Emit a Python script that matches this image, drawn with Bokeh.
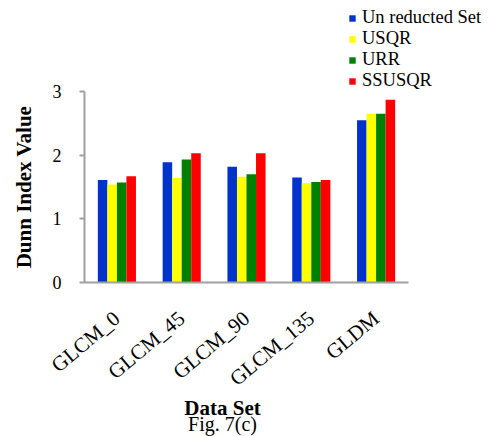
import math
from bokeh.plotting import figure
from bokeh.models import ColumnDataSource, Legend, LegendItem, Label, Range1d, FixedTicker, LinearAxis
from bokeh.embed import file_html
from bokeh.resources import INLINE

categories = ["GLCM_0", "GLCM_45", "GLCM_90", "GLCM_135", "GLDM"]
series_names = ["Un reducted Set", "USQR", "URR", "SSUSQR"]
unreducted = [1.61, 1.89, 1.82, 1.65, 2.55]
usqr = [1.54, 1.64, 1.66, 1.56, 2.65]
urr = [1.57, 1.93, 1.70, 1.58, 2.65]
ssusqr = [1.67, 2.03, 2.03, 1.61, 2.87]
y_ticks = [0, 1, 2, 3]

colors = ["#0033CC", "#FFFF00", "#008000", "#FF0000"]
offsets = [-0.2205, -0.0735, 0.0735, 0.2205]
FONT = "Liberation Serif"
AXIS_COLOR = "#A0A0A0"

W, H = 488, 436
AXIS_X_PX = 84             # pixel column of the value axis
PX_PER_CAT = 64.8          # horizontal pixels per category
AXIS_Y_PX = 282            # pixel row (from top) of value 0
TOP_Y_PX = 91              # pixel row of value 3
px_per_unit = (AXIS_Y_PX - TOP_Y_PX) / 3.0

n = len(categories)
left_edge = -0.5
x_start = left_edge - AXIS_X_PX / PX_PER_CAT
x_end = x_start + W / PX_PER_CAT
y_start = -(H - AXIS_Y_PX) / px_per_unit
y_end = 3 + TOP_Y_PX / px_per_unit

ticks = list(range(n))
data = dict(s0=unreducted, s1=usqr, s2=urr, s3=ssusqr)
for i in range(4):
    data["x%d" % i] = [t + offsets[i] for t in ticks]
source = ColumnDataSource(data)

p = figure(width=W, height=H, x_range=Range1d(x_start, x_end), y_range=Range1d(y_start, y_end),
           output_backend="svg", toolbar_location=None, x_axis_location=None, y_axis_location=None,
           min_border_left=0, min_border_right=0, min_border_top=0, min_border_bottom=0)
p.outline_line_color = None
p.grid.grid_line_color = None

renderers = []
for i, key in enumerate(["s0", "s1", "s2", "s3"]):
    r = p.vbar(x="x%d" % i, top=key, width=0.147, source=source,
               fill_color=colors[i], line_color=None)
    renderers.append(r)

# category axis, fixed at value 0
xax = LinearAxis(fixed_location=0, bounds=(left_edge, left_edge + n),
                 ticker=FixedTicker(ticks=ticks),
                 major_label_overrides={t: c for t, c in zip(ticks, categories)})
xax.axis_line_color = AXIS_COLOR
xax.axis_line_width = 2
xax.major_tick_line_color = None
xax.major_tick_in = 0
xax.major_tick_out = 0
xax.minor_tick_line_color = None
xax.major_label_orientation = math.radians(40)
xax.major_label_standoff = 33
xax.major_label_text_font = FONT
xax.major_label_text_font_size = "21px"
xax.major_label_text_color = "#000000"
p.add_layout(xax, "below")

# value axis, fixed at the left edge of the categories
yax = LinearAxis(fixed_location=left_edge, bounds=(0, 3), ticker=FixedTicker(ticks=y_ticks))
yax.axis_line_color = AXIS_COLOR
yax.axis_line_width = 2
yax.major_tick_in = 0
yax.major_tick_out = 5
yax.major_tick_line_color = AXIS_COLOR
yax.major_tick_line_width = 2
yax.minor_tick_line_color = None
yax.major_label_text_font = FONT
yax.major_label_text_font_size = "18px"
yax.major_label_text_color = "#000000"
yax.major_label_standoff = 18
yax.axis_label = "Dunn Index Value"
yax.axis_label_text_font = FONT
yax.axis_label_text_font_style = "bold"
yax.axis_label_text_font_size = "21px"
yax.axis_label_text_color = "#000000"
yax.axis_label_standoff = 14
p.add_layout(yax, "left")

legend = Legend(items=[LegendItem(label=series_names[i], renderers=[renderers[i]]) for i in range(4)],
                location=(348, H - 7 - 84), padding=0, margin=0, spacing=0, label_height=20,
                glyph_width=8, glyph_height=8, label_standoff=6,
                border_line_color=None, background_fill_alpha=0,
                label_text_font=FONT, label_text_font_size="18.5px", label_text_color="#000000")
p.add_layout(legend, "center")

p.add_layout(Label(x=222, y=H - 407, x_units="screen", y_units="screen", text="Data Set",
                   text_font=FONT, text_font_style="bold", text_font_size="21px",
                   text_align="center", text_baseline="alphabetic", text_color="#000000"))
p.add_layout(Label(x=222, y=H - 423, x_units="screen", y_units="screen", text="Fig. 7(c)",
                   text_font=FONT, text_font_size="20px",
                   text_align="center", text_baseline="alphabetic", text_color="#000000"))

open("out.html", "w").write(file_html(p, INLINE))
